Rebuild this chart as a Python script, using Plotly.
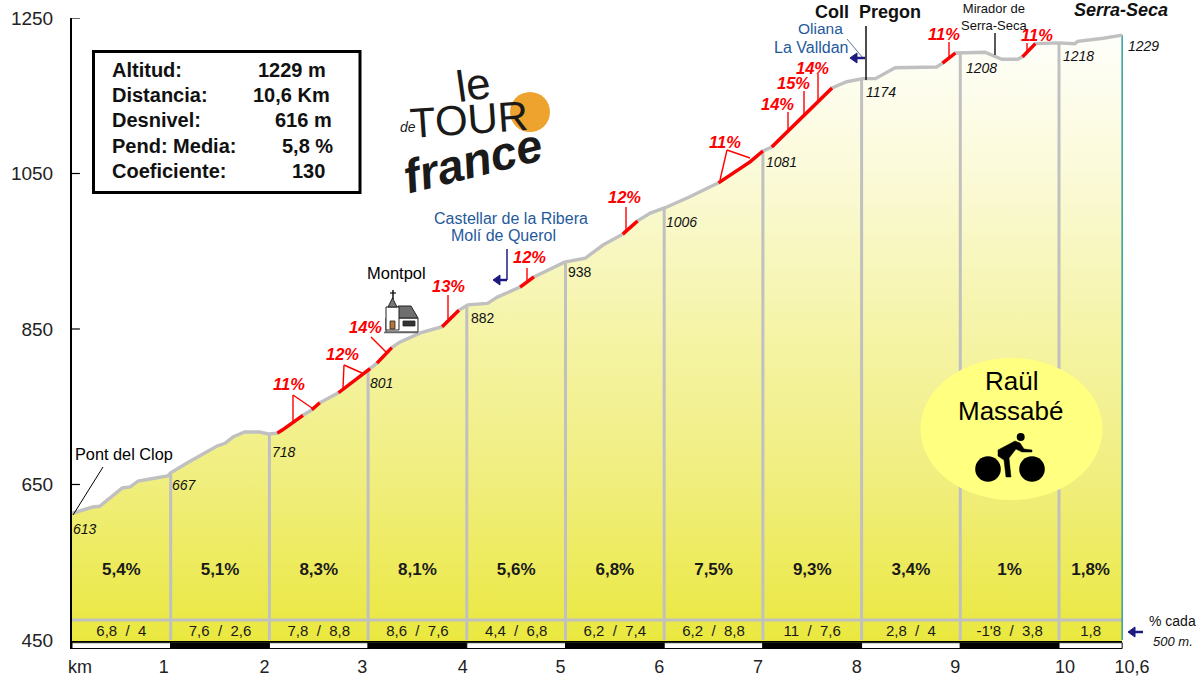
import numpy as np
import plotly.graph_objects as go

# ---------- data ----------
profile_km = [0, 0.21, 0.28, 0.51, 0.59, 0.67, 0.79, 0.97, 1.0, 1.17, 1.47, 1.55, 1.63, 1.75, 1.90, 1.99,
              2.08, 2.13, 2.34, 2.43, 2.51, 2.70, 3.02, 3.09, 3.24, 3.32, 3.53, 3.75, 3.92, 4.01, 4.21, 4.31,
              4.54, 4.68, 4.99, 5.20, 5.38, 5.58, 5.73, 5.86, 6.01, 6.26, 6.55, 6.87, 7.00, 7.09, 7.70, 7.85,
              8.01, 8.14, 8.34, 8.76, 8.82, 8.95, 9.25, 9.42, 9.58, 9.63, 9.76, 9.99, 10.16, 10.19, 10.45, 10.64]
profile_alt = [613, 621, 622, 645.5, 647, 654.5, 657, 661, 665, 678, 699.5, 703, 711, 717.5, 717.5, 715,
               716, 720, 739, 746, 755, 768, 799, 806, 826, 833, 845, 853, 874, 881, 883, 891,
               904, 917, 936, 941, 958, 972, 989, 999, 1006, 1020, 1038, 1065, 1079, 1084, 1160, 1168,
               1172, 1172, 1186, 1187, 1192, 1205, 1206, 1197, 1197, 1200, 1217, 1218, 1217, 1220, 1224, 1228]
red_ranges = [(2.08, 2.34), (2.43, 2.51), (2.70, 3.02), (3.09, 3.24), (3.75, 3.92), (4.54, 4.68),
              (5.58, 5.73), (6.55, 7.00), (7.09, 7.70), (8.82, 8.95), (9.63, 9.76)]
km_marks = [1, 2, 3, 4, 5, 6, 7, 8, 9, 10]
km_end = 10.64
segment_bounds = [0, 1, 2, 3, 4, 5, 6, 7, 8, 9, 10, 10.64]
segment_grades = ["5,4%", "5,1%", "8,3%", "8,1%", "5,6%", "6,8%", "7,5%", "9,3%", "3,4%", "1%", "1,8%"]
half_km_grades = ["6,8\u00a0\u00a0/\u00a0\u00a04", "7,6\u00a0\u00a0/\u00a0\u00a02,6", "7,8\u00a0\u00a0/\u00a0\u00a08,8",
                  "8,6\u00a0\u00a0/\u00a0\u00a07,6", "4,4\u00a0\u00a0/\u00a0\u00a06,8", "6,2\u00a0\u00a0/\u00a0\u00a07,4",
                  "6,2\u00a0\u00a0/\u00a0\u00a08,8", "11\u00a0\u00a0/\u00a0\u00a07,6", "2,8\u00a0\u00a0/\u00a0\u00a04",
                  "-1'8\u00a0\u00a0/\u00a0\u00a03,8", "1,8"]
y_ticks = [450, 650, 850, 1050, 1250]
x_tick_pos = [0.08, 0.93, 1.95, 2.94, 3.96, 4.95, 5.95, 6.95, 7.95, 8.95, 10.06, 10.74]
x_tick_text = ["km", "1", "2", "3", "4", "5", "6", "7", "8", "9", "10", "10,6"]
info_names = ["Altitud:", "Distancia:", "Desnivel:", "Pend: Media:", "Coeficiente:"]
info_values = ["1229 m", "10,6 Km", "616 m", "5,8 %", "130"]

FONT = "Liberation Sans"
GREY = "#c0c0c0"
NAVY = "#1c1c80"
BLUE = "#1f5a9c"
RED = "#ff0000"


def X(px):
    return (px - 72) / 1130


def Y(py):
    return (649 - py) / 631


annotations = []
shapes = []


def label(px, py, text, size=14, color="#000000", bold=False, italic=False, family=FONT, angle=0, anchor="center"):
    annotations.append(dict(x=X(px), y=Y(py), xref="paper", yref="paper", text=text, showarrow=False,
                            xanchor=anchor, yanchor="middle", textangle=angle,
                            font=dict(family=family, size=size, color=color,
                                      weight="bold" if bold else "normal",
                                      style="italic" if italic else "normal")))


def seg(x0, y0, x1, y1, color="#000000", width=1.0):
    shapes.append(dict(type="line", xref="paper", yref="paper", x0=X(x0), y0=Y(y0), x1=X(x1), y1=Y(y1),
                       line=dict(color=color, width=width), layer="above"))


def poly(points, fill, line="#000000", width=1.0):
    d = "M " + " L ".join(f"{X(a):.5f},{Y(b):.5f}" for a, b in points) + " Z"
    shapes.append(dict(type="path", xref="paper", yref="paper", path=d, fillcolor=fill,
                       line=dict(color=line, width=width), layer="above"))


def oval(cx, cy, rx, ry, fill, line=None):
    shapes.append(dict(type="circle", xref="paper", yref="paper", x0=X(cx - rx), x1=X(cx + rx),
                       y0=Y(cy + ry), y1=Y(cy - ry), fillcolor=fill,
                       line=dict(width=0 if line is None else 1, color=line or fill), layer="above"))


fig = go.Figure()
km = np.array(profile_km, dtype=float)
alt = np.array(profile_alt, dtype=float)

# filled area
fig.add_trace(go.Scatter(x=km, y=alt, mode="none", fill="tozeroy", hoverinfo="skip",
                         fillgradient=dict(type="vertical", start=450, stop=1250,
                                           colorscale=[[0, "#eae83f"], [0.25, "#f0ee7c"], [0.5, "#f5f4a8"],
                                                       [0.75, "#fbfad8"], [1, "#ffffff"]])))
# km gridlines rising to the profile
gx, gy = [], []
for k in km_marks:
    gx += [k, k, None]
    gy += [450, float(np.interp(k, km, alt)), None]
fig.add_trace(go.Scatter(x=gx, y=gy, mode="lines", line=dict(color=GREY, width=3), hoverinfo="skip"))
fig.add_trace(go.Scatter(x=[0, km_end], y=[475.7, 475.7], mode="lines", line=dict(color=GREY, width=3), hoverinfo="skip"))
fig.add_trace(go.Scatter(x=[km_end, km_end], y=[450, alt[-1]], mode="lines", line=dict(color="#2f9f9f", width=1.5), hoverinfo="skip"))
# profile
fig.add_trace(go.Scatter(x=km, y=alt, mode="lines", line=dict(color=GREY, width=3.4), hoverinfo="skip"))
for a, b in red_ranges:
    m = (km >= a) & (km <= b)
    fig.add_trace(go.Scatter(x=km[m], y=alt[m], mode="lines", line=dict(color=RED, width=3.4), hoverinfo="skip"))
# y tick marks crossing the axis
tx, ty = [], []
for t in y_ticks[1:]:
    tx += [-0.09, 0.08, None]
    ty += [t, t, None]
fig.add_trace(go.Scatter(x=tx, y=ty, mode="lines", line=dict(color="#000000", width=1.2), cliponaxis=False, hoverinfo="skip"))
# segment labels
mids = [(segment_bounds[i] + segment_bounds[i + 1]) / 2 for i in range(len(segment_grades))]
fig.add_trace(go.Scatter(x=mids, y=[538.7] * len(mids), mode="text", text=segment_grades, hoverinfo="skip",
                         textfont=dict(family=FONT, size=17, color="#1a1a1a", weight="bold")))
fig.add_trace(go.Scatter(x=mids, y=[460.5] * len(mids), mode="text", text=half_km_grades, hoverinfo="skip",
                         textfont=dict(family=FONT, size=15, color="#1a1a1a")))

# km strip
for i in range(len(segment_bounds) - 1):
    shapes.append(dict(type="rect", xref="x", yref="y", x0=segment_bounds[i], x1=segment_bounds[i + 1],
                       y0=439, y1=446.5, fillcolor="#000000" if i % 2 else "#ffffff",
                       line=dict(color="#000000", width=1), layer="above"))
seg(72, 641.5, 1122, 641.5, "#000000", 1.2)

# info box
shapes.append(dict(type="rect", xref="paper", yref="paper", x0=X(93.5), x1=X(360), y0=Y(192.5), y1=Y(51.5),
                   fillcolor="#ffffff", line=dict(color="#000000", width=3), layer="above"))
rows = [70, 95, 120, 146, 171]
val_x = [292, 291, 303, 307, 308]
for r, n, v, vx in zip(rows, info_names, info_values, val_x):
    label(110, r, n, 20, "#111111", bold=True, anchor="left")
    label(vx, r, v, 20, "#111111", bold=True)

# altitude labels
for px, py, t, it in [(85, 529, "613", True), (184, 485, "667", True), (284, 452, "718", True), (381, 383, "801", True),
                      (483, 318, "882", False), (580, 272, "938", False), (681, 222, "1006", True),
                      (781, 162, "1081", True), (881, 92, "1174", True), (981, 68, "1208", True),
                      (1078, 56, "1218", True), (1143, 46, "1229", True)]:
    label(px, py, t, 14, "#111111", italic=it)

# red grade labels with leaders
for px, py, t in [(289, 384, "11%"), (342, 354, "12%"), (365, 327, "14%"), (448, 286, "13%"), (529, 257, "12%"),
                  (624, 197, "12%"), (725, 142, "11%"), (777, 104, "14%"), (793, 83, "15%"), (812, 68, "14%"),
                  (944, 34, "11%"), (1037, 35, "11%")]:
    label(px, py, t, 16.5, RED, bold=True, italic=True)
for s in [(293, 395, 293, 423), (293, 395, 312, 408), (344, 365, 343, 388), (344, 365, 362, 373), (371, 337, 387, 353),
          (448, 295, 448, 319), (527, 268, 527, 282), (626, 207, 626, 233), (727, 150, 720, 180), (727, 150, 750, 158),
          (788, 112, 788, 132), (804, 91, 804, 115), (818, 74, 818, 100), (949, 42, 949, 58), (1027, 43, 1027, 53)]:
    seg(*s, color=RED, width=1.4)

# place names
label(124, 454, "Pont del Clop", 16.3)
seg(103, 467, 73, 515, "#000000", 1)
label(396, 273, "Montpol", 16.5)
label(511, 218, "Castellar de la Ribera", 16, BLUE)
label(503, 236, "Molí de Querol", 16, BLUE)
seg(507, 249, 507, 280, NAVY, 1.5)
seg(507, 280, 497, 280, NAVY, 2.5)
poly([(493, 280), (500, 275), (500, 285)], NAVY, NAVY)
label(820, 29, "Oliana", 15.5, BLUE)
label(811, 47, "La Valldan", 16, BLUE)
seg(847, 39, 863, 58, "#33506e", 0.8)
seg(856, 58, 865, 58, NAVY, 2.5)
poly([(850, 58), (857, 53), (857, 63)], NAVY, NAVY)
label(868, 12, "Coll\u00a0\u00a0Pregon", 18, "#111111", bold=True)
seg(866, 26, 866, 80, "#111111", 1.5)
label(994, 17, "Mirador de<br>Serra-Seca", 13, "#111111")
seg(995, 33, 995, 55, "#222222", 1.5)
label(1121, 10, "Serra-Seca", 18, "#111111", bold=True, italic=True)

# right note
label(1172, 621, "% cada", 14, "#111111")
label(1173, 641, "500 m.", 13, "#111111", italic=True)
seg(1134, 632, 1143, 632, NAVY, 2.5)
poly([(1128, 632), (1135, 627), (1135, 637)], NAVY, NAVY)

# logo
oval(530, 112, 20, 20, "#efa32f")
label(473, 84, "le", 44, "#1a1a1a", angle=-8)
label(469, 120, "TOUR", 42, "#1a1a1a", angle=-4)
label(408, 127, "de", 14, "#1a1a1a", italic=True)
label(473, 160, "france", 47, "#1a1a1a", bold=True, italic=True, angle=-14)

# church
poly([(386, 332), (418, 332), (418, 318), (386, 318)], "#ffffff", "#222222", 1)
poly([(398, 318), (418, 318), (411, 306), (398, 306)], "#6f6f6f", "#222222", 1)
poly([(386, 330), (399, 330), (399, 307), (386, 307)], "#ffffff", "#222222", 1)
poly([(388, 307), (397, 307), (392.5, 298)], "#777777", "#222222", 1)
seg(393, 290, 393, 299, "#111111", 1.5)
seg(390, 293, 396, 293, "#111111", 1.2)
poly([(390, 329), (395, 329), (395, 321), (390, 321)], "#b5763b", "#222222", 0.8)
poly([(403, 326), (415, 326), (415, 321), (403, 321)], "#333333", "#222222", 0.8)
seg(384, 332.5, 418, 332.5, "#666666", 1.5)

# rider badge
oval(1011.5, 429, 91, 71, "#ffff80")
label(1011, 381, "Raül", 26, "#000000")
label(1011, 411, "Massabé", 26, "#000000")
oval(988, 469, 12.8, 12.8, "#000000")
oval(1032, 469, 12.8, 12.8, "#000000")
oval(1020.7, 437, 4, 4, "#000000")
poly([(998, 450), (1015, 441), (1020, 443), (1024, 449), (1032, 450), (1032, 452), (1022, 452), (1016, 449),
      (1009, 458), (1011, 477), (1006, 477), (1004, 460), (998, 456)], "#000000", "#000000", 0.5)

fig.update_layout(
    width=1202, height=677, margin=dict(l=72, r=0, t=18, b=28), paper_bgcolor="#ffffff", plot_bgcolor="#ffffff",
    showlegend=False, annotations=annotations, shapes=shapes,
    xaxis=dict(range=[0, 1130 / 98.7], showgrid=False, zeroline=False, showline=False, ticks="",
               tickmode="array", tickvals=x_tick_pos, ticktext=x_tick_text, tickangle=0,
               tickfont=dict(family=FONT, size=18, color="#222222"), ticklabelstandoff=5),
    yaxis=dict(range=[438.4, 1250], showgrid=False, zeroline=False, showline=True, linecolor="#000000", linewidth=2,
               ticks="", tickmode="array", tickvals=y_ticks, tickfont=dict(family=FONT, size=19, color="#222222"),
               ticklabelstandoff=13),
)
fig.write_html("out.html", config={"displayModeBar": False},
               post_script="document.body.style.margin='0';document.documentElement.style.overflow='hidden';")
